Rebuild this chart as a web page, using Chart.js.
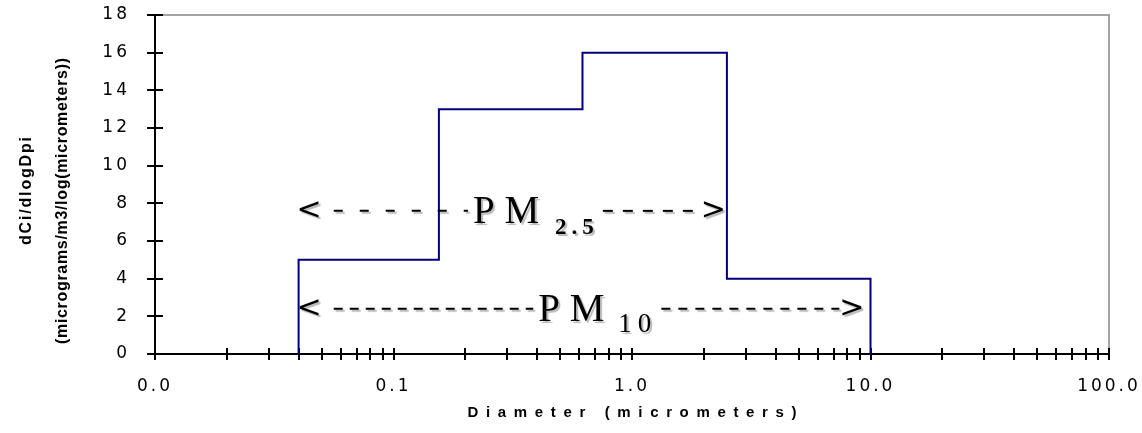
<!DOCTYPE html>
<html>
<head>
<meta charset="utf-8">
<title>dCi/dlogDpi by diameter</title>
<script src="https://cdn.jsdelivr.net/npm/chart.js@4.4.1/dist/chart.umd.min.js"></script>
<style>
  html, body { margin: 0; padding: 0; background: #fff; }
  canvas { display: block; }
</style>
</head>
<body>
<canvas id="chart" width="1142" height="433"></canvas>
<script>
// size bins (micrometers) and their dCi/dlogDpi values
const binEdges = [0.04, 0.155, 0.62, 2.5, 10];
const binValues = [5, 13, 16, 4];

// x axis decades and their labels
const xDecades = [0.01, 0.1, 1, 10, 100];
const xDecadeLabels = ["0.0", "0.1", "1.0", "10.0", "100.0"];
const yTickStep = 2;

// PM size-range arrows
const pmSubs = ["2.5", "10"];
const pmFrom = [0.04, 0.04];
const pmTo = [2.5, 10];
const pmLevel = [7.6, 2.4];

// step outline: up from zero at the first edge, down to zero at the last
const stepPoints = [{ x: binEdges[0], y: 0 }];
binValues.forEach((v, i) => stepPoints.push({ x: binEdges[i + 1], y: v }));
stepPoints.push({ x: binEdges[binEdges.length - 1], y: 0 });

// minor ticks 2..9 inside every decade
const xTickValues = [];
xDecades.forEach((d, i) => {
  xTickValues.push(d);
  if (i < xDecades.length - 1) for (let k = 2; k <= 9; k++) xTickValues.push(+(d * k).toPrecision(3));
});

function spacedText(ctx, text, x, y, len) {
  // draws text centred on x, stretched to len px with letter spacing
  ctx.letterSpacing = "0px";
  const w = ctx.measureText(text).width;
  const sp = Math.max(0, (len - w) / (text.length - 1));
  ctx.letterSpacing = sp + "px";
  ctx.textAlign = "left";
  ctx.fillText(text, x - (w + sp * (text.length - 1)) / 2, y);
  ctx.letterSpacing = "0px";
}

// keep tick labels from pushing the plot area in
function noOverflow(s) {
  s.paddingLeft = s.paddingRight = s.paddingTop = s.paddingBottom = 0;
}

const frameAndTicks = {
  id: "frameAndTicks",
  beforeDraw(chart) {
    chart.ctx.letterSpacing = "3px";
  },
  beforeDatasetsDraw(chart) {
    const { ctx, chartArea: a, scales: { x, y } } = chart;
    ctx.save();
    ctx.letterSpacing = "0px";
    // grey frame on top and right
    ctx.strokeStyle = "#a3a3a3";
    ctx.lineWidth = 2;
    ctx.beginPath();
    ctx.moveTo(a.left, a.top);
    ctx.lineTo(a.right, a.top);
    ctx.lineTo(a.right, a.bottom);
    ctx.stroke();
    // black axes with crossing ticks
    ctx.strokeStyle = "#000";
    ctx.lineWidth = 2;
    ctx.beginPath();
    ctx.moveTo(a.left, a.top - 1);
    ctx.lineTo(a.left, a.bottom + 1);
    ctx.moveTo(a.left - 1, a.bottom);
    ctx.lineTo(a.right + 1, a.bottom);
    y.ticks.forEach(t => {
      const py = Math.round(y.getPixelForValue(t.value));
      ctx.moveTo(a.left - 8, py);
      ctx.lineTo(a.left + 8, py);
    });
    x.ticks.forEach(t => {
      const px = Math.round(x.getPixelForValue(t.value));
      ctx.moveTo(px, a.bottom - 6);
      ctx.lineTo(px, a.bottom + 6);
    });
    ctx.stroke();
    ctx.restore();
  },
  afterDraw(chart) {
    const { ctx, chartArea: a } = chart;
    ctx.save();
    ctx.fillStyle = "#000";
    ctx.textBaseline = "middle";
    ctx.font = 'bold 15px "Liberation Sans", Arial, sans-serif';
    spacedText(ctx, "Diameter (micrometers)", (a.left + a.right) / 2, 413, 329);
    ctx.font = 'bold 16px "Liberation Sans", Arial, sans-serif';
    ctx.translate(27, 191);
    ctx.rotate(-Math.PI / 2);
    spacedText(ctx, "dCi/dlogDpi", 0, 0, 108);
    ctx.rotate(Math.PI / 2);
    ctx.translate(36, 10);
    ctx.rotate(-Math.PI / 2);
    spacedText(ctx, "(micrograms/m3/log(micrometers))", 0, 0, 286);
    ctx.restore();
  }
};

const pmArrows = {
  id: "pmArrows",
  afterDatasetsDraw(chart, args, opts) {
    const { ctx, scales: { x, y } } = chart;
    ctx.save();
    ctx.letterSpacing = "0px";
    ctx.fillStyle = "#000";
    ctx.strokeStyle = "#000";
    ctx.shadowColor = "rgba(0,0,0,0.28)";
    ctx.shadowOffsetX = 2;
    ctx.shadowOffsetY = 2;
    ctx.shadowBlur = 1;
    pmSubs.forEach((sub, i) => {
      const st = opts.styles[i];
      const x0 = x.getPixelForValue(pmFrom[i]);
      const x1 = x.getPixelForValue(pmTo[i]) - st.inset;
      const yc = y.getPixelForValue(pmLevel[i]);
      ctx.textBaseline = "middle";
      ctx.font = '30px "DejaVu Sans", sans-serif';
      ctx.textAlign = "left";
      ctx.fillText("<", x0 - 2, yc);
      const wl = ctx.measureText("<").width;
      ctx.textAlign = "right";
      ctx.fillText(">", x1 + 2, yc);
      // label: P M with subscript
      const lx = x0 + st.labelAt * (x1 - x0);
      ctx.textBaseline = "alphabetic";
      ctx.textAlign = "left";
      ctx.font = '39px "Liberation Serif", "Times New Roman", serif';
      ctx.fillText("P M", lx, yc + 12);
      const wm = ctx.measureText("P M").width;
      ctx.font = st.subFont;
      ctx.letterSpacing = st.subSpacing + "px";
      const sx = lx + wm + st.subGap;
      ctx.fillText(sub, sx, yc + 12 + st.subDrop);
      const ws = ctx.measureText(sub).width;
      ctx.letterSpacing = "0px";
      // dashed shafts either side of the label
      ctx.lineWidth = 2;
      ctx.setLineDash(st.dashL);
      ctx.beginPath();
      ctx.moveTo(x0 + wl + 10, yc);
      ctx.lineTo(lx - 5, yc);
      ctx.stroke();
      ctx.setLineDash(st.dashR);
      ctx.beginPath();
      ctx.moveTo(sx + ws + 4, yc);
      ctx.lineTo(x1 - wl + 2, yc);
      ctx.stroke();
      ctx.setLineDash([]);
    });
    ctx.restore();
  }
};

new Chart(document.getElementById("chart"), {
  type: "line",
  data: {
    datasets: [{
      data: stepPoints,
      stepped: "after",
      borderColor: "#000080",
      borderWidth: 2,
      pointRadius: 0,
      fill: false
    }]
  },
  options: {
    responsive: false,
    animation: false,
    devicePixelRatio: 1,
    layout: { padding: { top: 15, right: 33, left: 0, bottom: 0 } },
    plugins: {
      legend: { display: false },
      tooltip: { enabled: false },
      pmArrows: {
        styles: [
          { labelAt: 0.41, inset: 3, dashL: [9, 17], dashR: [10, 10], subFont: 'bold 23px "Liberation Serif", serif', subSpacing: 5, subGap: 16, subDrop: 11 },
          { labelAt: 0.425, inset: 8, dashL: [9, 7], dashR: [9, 8], subFont: '27px "Liberation Serif", serif', subSpacing: 6, subGap: 14, subDrop: 11 }
        ]
      }
    },
    scales: {
      x: {
        type: "logarithmic",
        min: xDecades[0],
        max: xDecades[xDecades.length - 1],
        afterBuildTicks: s => { s.ticks = xTickValues.map(v => ({ value: v })); },
        afterFit: s => { s.height = 79; noOverflow(s); },
        grid: { display: false, drawTicks: false },
        border: { display: false },
        ticks: {
          autoSkip: false,
          maxRotation: 0,
          padding: 22,
          color: "#000",
          font: { family: "DejaVu Sans", size: 17 },
          callback: v => {
            const i = xDecades.indexOf(v);
            return i >= 0 ? xDecadeLabels[i] : "";
          }
        }
      },
      y: {
        min: 0,
        max: 18,
        afterFit: s => { s.width = 155; noOverflow(s); },
        grid: { display: false, drawTicks: false },
        border: { display: false },
        ticks: {
          stepSize: yTickStep,
          padding: 25,
          color: "#000",
          font: { family: "DejaVu Sans", size: 17 }
        }
      }
    }
  },
  plugins: [frameAndTicks, pmArrows]
});
</script>
</body>
</html>
